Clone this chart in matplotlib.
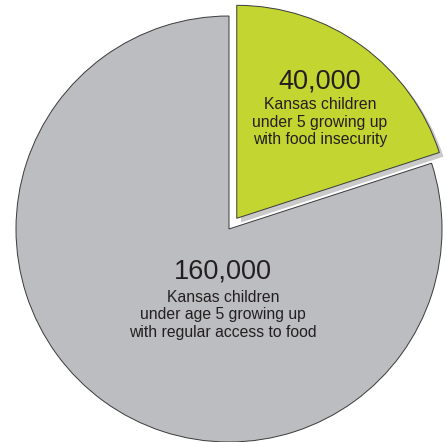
import matplotlib
matplotlib.use("Agg")
import matplotlib.pyplot as plt
import matplotlib.patheffects as pe

values = [40000, 160000]
numbers = ["40,000", "160,000"]
descriptions = [
    "Kansas children\nunder 5 growing up\nwith food insecurity",
    "Kansas children\nunder age 5 growing up\nwith regular access to food",
]
colors = ["#C3D530", "#BCBDC0"]

W, H = 447, 442
fig = plt.figure(figsize=(W / 100, H / 100), dpi=100)
ax = fig.add_axes([0, 0, 1, 1])

cx, cy, R = 229, 229, 213
wedges, _ = ax.pie(values, colors=colors, startangle=90, counterclock=False,
                   explode=[0.062, 0], radius=1.0,
                   wedgeprops=dict(edgecolor="#3a3a3a", linewidth=0.7))
wedges[0].set_path_effects([pe.SimplePatchShadow(offset=(3, -3), shadow_rgbFace="#888888", alpha=0.45),
                            pe.Normal()])
wedges[0].set_zorder(3)
ax.set_xlim(-cx / R, (W - cx) / R)
ax.set_ylim(-(H - cy) / R, cy / R)
ax.set_aspect("auto")
ax.axis("off")

font = "Liberation Sans"
tc = "#231F20"

def px(x, y):
    return x / W, 1 - y / H

# green label
x, y = px(320, 82)
fig.text(x, y, numbers[0], ha="center", va="center", fontsize=19.5, family=font, color=tc, zorder=5)
x, y = px(320, 122)
fig.text(x, y, descriptions[0], ha="center", va="center", fontsize=11.3, family=font, color=tc,
         linespacing=1.2, zorder=5)

# gray label
x, y = px(223, 272)
fig.text(x, y, numbers[1], ha="center", va="center", fontsize=19.5, family=font, color=tc, zorder=5)
x, y = px(223, 315)
fig.text(x, y, descriptions[1], ha="center", va="center", fontsize=11.3, family=font, color=tc,
         linespacing=1.2, zorder=5)

fig.savefig("out.png", dpi=100, facecolor="white")
